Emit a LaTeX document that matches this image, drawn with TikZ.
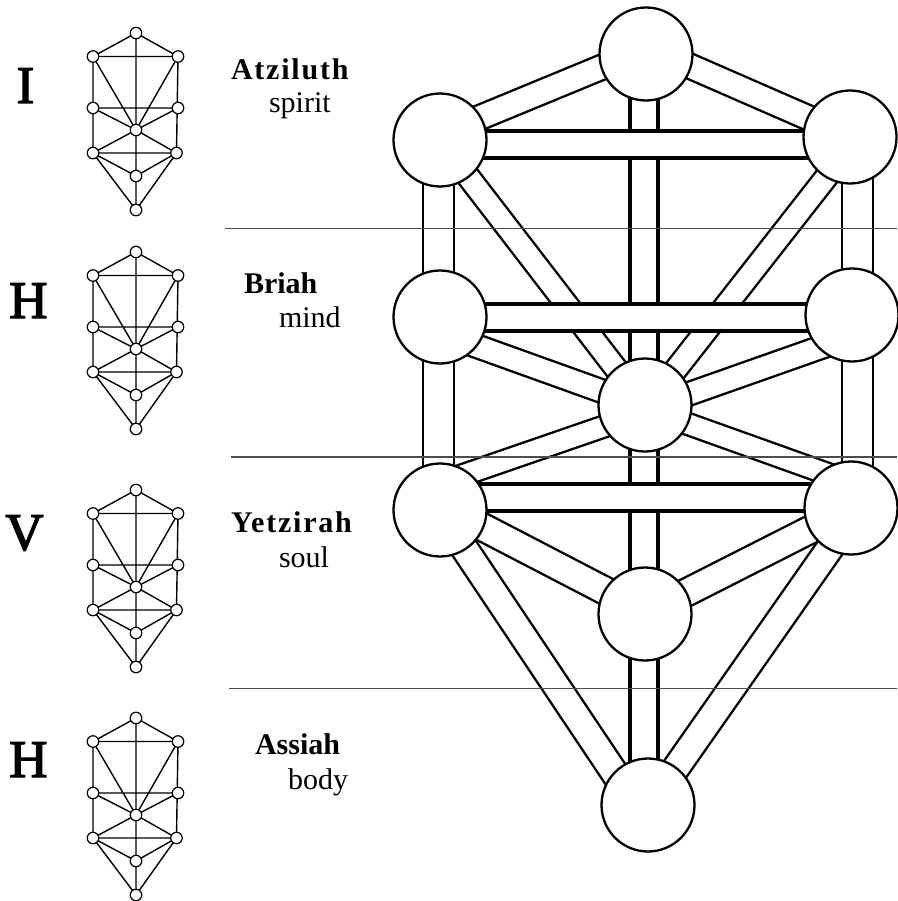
\documentclass[tikz,border=0pt]{standalone}
\usepackage{fontspec}
\setmainfont{Liberation Serif}
\newfontfamily\spacedfont[LetterSpace=6]{Liberation Serif}
\newfontfamily\heavyfont[FakeBold=2.5]{Liberation Serif}
\newcommand\smalltree[2]{%
  \coordinate (#1K)  at (136,#2);
  \coordinate (#1UL) at (93,#2+23.5);
  \coordinate (#1UR) at (178,#2+23.5);
  \coordinate (#1ML) at (93,#2+75);
  \coordinate (#1MR) at (178,#2+75);
  \coordinate (#1C)  at (136,#2+97);
  \coordinate (#1LL) at (93,#2+120);
  \coordinate (#1LR) at (176.5,#2+120);
  \coordinate (#1Y)  at (136,#2+143);
  \coordinate (#1M)  at (136,#2+177);
  \draw[sline] (#1K)--(#1M) (#1K)--(#1UL) (#1K)--(#1UR) (#1UL)--(#1UR)
    (#1UL)--(#1C) (#1UR)--(#1C) (#1UL)--(#1LL) (#1UR)--(#1LR)
    (#1ML)--(#1MR) (#1ML)--(#1C) (#1MR)--(#1C) (#1C)--(#1LL) (#1C)--(#1LR)
    (#1LL)--(#1LR) (#1LL)--(#1Y) (#1LR)--(#1Y) (#1LL)--(#1M) (#1LR)--(#1M);
  \foreach \p in {K,UL,UR,ML,MR,C,LL,LR,Y,M} {\node[smallc] (#1n\p) at (#1\p) {};}
}
\begin{document}
\begin{tikzpicture}[x=1pt,y=-1pt,
  chan/.style 2 args={draw=black, line width=#1pt, double=white, double distance=#2pt},
  bigc/.style={circle, draw=black, fill=white, line width=2.3pt, minimum size=93pt, inner sep=0pt},
  smallc/.style={circle, draw=black, fill=white, line width=1.2pt, minimum size=11.5pt, inner sep=0pt},
  sline/.style={draw=black, line width=1.4pt},
  divider/.style={draw=black!70, line width=1.1pt},
  lbl/.style={inner sep=0pt, outer sep=0pt, anchor=base west, font=\fontsize{30}{36}\selectfont},
  letter/.style={inner sep=0pt, outer sep=0pt, anchor=base, font=\fontsize{53}{60}\selectfont\heavyfont}]
\useasboundingbox (0,0) rectangle (897,901);
\fill[white] (0,0) rectangle (897,901);

% big tree positions
\coordinate (K)   at (646,54);
\coordinate (Bi)  at (440,140);
\coordinate (Ch)  at (850,137);
\coordinate (Ge)  at (440,317);
\coordinate (Che) at (852,315);
\coordinate (Ti)  at (645,405);
\coordinate (Ho)  at (440,510);
\coordinate (Ne)  at (851,508);
\coordinate (Ye)  at (645,614);
\coordinate (Ma)  at (648,805);

% diagonal channels
\draw[chan={2.4}{22.6}] ([shift={(0,-5)}]K) -- ([shift={(0,-6)}]Bi);
\draw[chan={2.4}{22.6}] ([shift={(0,-7)}]K) -- ([shift={(0,-1)}]Ch);
\draw[chan={2.4}{20.6}] (Bi) -- ([shift={(-1,0)}]Ti);
\draw[chan={2.4}{20.6}] ([shift={(7,1)}]Ch) -- ([shift={(3,0)}]Ti);
\draw[chan={2.4}{21.1}] ([shift={(0,16)}]Ge) -- ([shift={(1,2)}]Ti);
\draw[chan={2.4}{21.1}] ([shift={(1,21)}]Che) -- ([shift={(1,4)}]Ti);
\draw[chan={2.4}{19.6}] ([shift={(1,7)}]Ti) -- ([shift={(0,-27)}]Ho);
\draw[chan={2.4}{19.6}] ([shift={(1,4)}]Ti) -- ([shift={(2,-25)}]Ne);
\draw[chan={2.4}{25.6}] ([shift={(0,-5)}]Ho) -- ([shift={(1,-2)}]Ye);
\draw[chan={2.4}{25.6}] ([shift={(2,0)}]Ne) -- ([shift={(1,-1)}]Ye);
\draw[chan={2.4}{25.1}] ([shift={(-2,-1)}]Ho) -- ([shift={(-12,0)}]Ma);
\draw[chan={2.4}{25.1}] ([shift={(7,0)}]Ne) -- ([shift={(2,0)}]Ma);
% side pillars
\draw[chan={2.2}{28.8}] ([shift={(-1.5,0)}]Bi) -- ([shift={(-1.5,0)}]Ho);
\draw[chan={2.2}{28.8}] ([shift={(7.5,0)}]Ch) -- ([shift={(6.5,0)}]Ne);
% middle pillar
\draw[chan={3.3}{24.7}] ([shift={(-2,0)}]K) -- ([shift={(-4,0)}]Ma);
% horizontals
\draw[chan={3.2}{23.8}] ([shift={(0,4.5)}]Bi) -- ([shift={(0,7.5)}]Ch);
\draw[chan={3.2}{23.8}] ([shift={(0,0.5)}]Ge) -- ([shift={(0,2.5)}]Che);
\draw[chan={3.2}{23.8}] ([shift={(0,-12.5)}]Ho) -- ([shift={(0,-10.5)}]Ne);

% spheres
\foreach \s in {K,Bi,Ch,Ge,Che,Ti,Ho,Ne,Ye,Ma} {\node[bigc] (n\s) at (\s) {};}

% dividers
\draw[divider] (225,228.5) -- (897,228.5);
\draw[divider] (231,457) -- (897,457);
\draw[divider] (229,688.5) -- (897,688.5);

% small trees
\smalltree{a}{33}
\smalltree{b}{252}
\smalltree{c}{490}
\smalltree{d}{718}

% letters
\node[letter] (L1) at (25.5,103) {I};
\node[letter] (L2) at (28.5,318) {H};
\node[letter] (L3) at (24.5,550) {V};
\node[letter] (L4) at (28.5,777) {H};

% labels
\node[lbl] (w1) at (231,80) {\spacedfont\bfseries Atziluth};
\node[lbl] (s1) at (269,113) {spirit};
\node[lbl] (w2) at (244,293) {\bfseries Briah};
\node[lbl] (s2) at (279,327) {mind};
\node[lbl] (w3) at (231,532) {\spacedfont\bfseries Yetzirah};
\node[lbl] (s3) at (279,567) {soul};
\node[lbl] (w4) at (255,754) {\bfseries Assiah};
\node[lbl] (s4) at (288,789) {body};
\end{tikzpicture}
\end{document}
